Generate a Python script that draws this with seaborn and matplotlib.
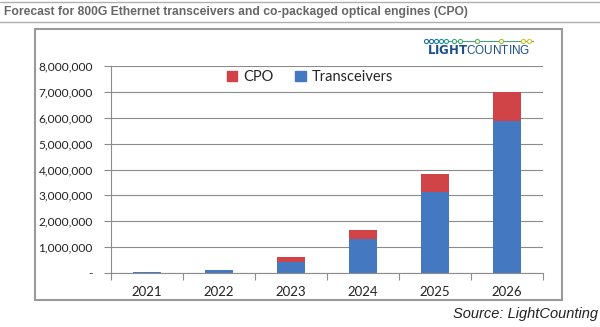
import matplotlib
matplotlib.use("Agg")
import matplotlib.pyplot as plt
import seaborn as sns
import pandas as pd
from matplotlib.ticker import FuncFormatter
from matplotlib.patches import Rectangle
from matplotlib.lines import Line2D

years = ["2021", "2022", "2023", "2024", "2025", "2026"]
transceivers = [40000, 100000, 410000, 1310000, 3120000, 5860000]
cpo = [5000, 30000, 210000, 360000, 700000, 1120000]
yticks = [0, 1000000, 2000000, 3000000, 4000000, 5000000, 6000000, 7000000, 8000000]

BLUE = "#4479C2"
RED = "#D04346"

sns.set_theme(style="white")
plt.rcParams["font.family"] = ["Lato", "DejaVu Sans"]

df = pd.DataFrame({"year": years, "trans": transceivers,
                   "total": [t + c for t, c in zip(transceivers, cpo)]})

fig = plt.figure(figsize=(6.0, 3.27), dpi=100)
ax = fig.add_axes([111/600, 1-273/327, (543-111)/600, (273-66)/327])

sns.barplot(data=df, x="year", y="total", color=RED, width=0.4, ax=ax,
            saturation=1, linewidth=0)
sns.barplot(data=df, x="year", y="trans", color=BLUE, width=0.4, ax=ax,
            saturation=1, linewidth=0)

ax.set_ylim(0, 8000000)
ax.set_xlim(-0.5, 5.5)
ax.set_yticks(yticks)
ax.yaxis.set_major_formatter(FuncFormatter(lambda v, p: "-" if v == 0 else f"{int(v):,}"))
ax.set_xlabel("")
ax.set_ylabel("")
ax.grid(axis="y", color="#8c8c8c", linewidth=0.8)
ax.set_axisbelow(True)
for s in ["top", "right"]:
    ax.spines[s].set_visible(False)
for s in ["left", "bottom"]:
    ax.spines[s].set_color("#8c8c8c")
    ax.spines[s].set_linewidth(0.8)
ax.tick_params(axis="y", which="major", length=5, width=0.8, color="#8c8c8c",
               labelsize=8.6, labelcolor="#222222", pad=8, left=True, direction="out")
ax.tick_params(axis="x", which="major", length=0, labelsize=9.5, labelcolor="#222222", pad=9)
ax.set_xticks([i - 0.5 for i in range(7)], minor=True)
ax.tick_params(axis="x", which="minor", length=5, width=0.8, color="#8c8c8c",
               bottom=True, direction="out")

handles = [Rectangle((0, 0), 1, 1, color=RED), Rectangle((0, 0), 1, 1, color=BLUE)]
fig.legend(handles, ["CPO", "Transceivers"], loc="center", bbox_to_anchor=(310/600, 1-77/327),
           ncol=2, frameon=False, fontsize=10.5, handlelength=0.7, handleheight=0.7,
           handletextpad=0.4, columnspacing=1.5)

# outer chart box
fig.add_artist(Rectangle((35/600, 1-300/327), (562-35)/600, (300-29)/327,
                         transform=fig.transFigure, fill=False, edgecolor="#9a9a9a", linewidth=1.5))
# title rules
for yy in [2, 21.5]:
    fig.add_artist(Line2D([0, 1], [1-yy/327, 1-yy/327], transform=fig.transFigure,
                          color="#b0b0b0", linewidth=1))
fig.text(4/600, 1-12/327, "Forecast for 800G Ethernet transceivers and co-packaged optical engines (CPO)",
         family=["Liberation Sans"], fontweight="bold", fontsize=8.75, color="#666666",
         ha="left", va="center")

# logo
xs = [426, 431, 436, 441, 446, 454, 460, 477, 501, 523, 529]
cols = ["#1f6fa8", "#1f6fa8", "#1f7fa8", "#1f8fa0", "#2a9f8a", "#3aa97a", "#4aae6a",
        "#6db450", "#a3be35", "#c8c828", "#d6cd20"]
fig.add_artist(Line2D([426/600, 533/600], [1-41/327, 1-41/327], transform=fig.transFigure,
                      color="#4aa07a", linewidth=0.8))
for x, c in zip(xs, cols):
    fig.add_artist(Line2D([x/600], [1-41/327], transform=fig.transFigure, marker="o",
                          markersize=3, markerfacecolor="white", markeredgecolor=c,
                          markeredgewidth=0.8, linestyle="none"))
fig.text(479/600, 1-50/327, r"$\bf{LIGHT}$COUNTING", family=["Liberation Sans"], fontsize=8.5,
         color="#1d4f8a", ha="center", va="center")

fig.text(598/600, 1-314/327, "Source: LightCounting", family=["Liberation Sans"],
         style="italic", fontsize=10.5, color="#222222", ha="right", va="center")

fig.savefig("out.png", dpi=100)
